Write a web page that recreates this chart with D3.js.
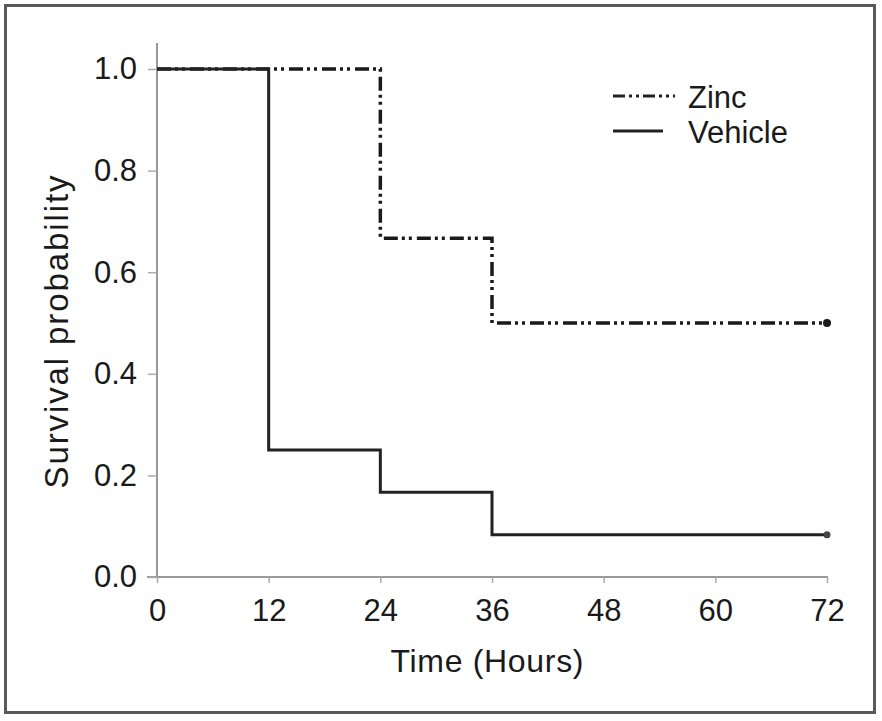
<!DOCTYPE html>
<html>
<head>
<meta charset="utf-8">
<script src="https://cdn.jsdelivr.net/npm/d3@7"></script>
<style>
  body { margin: 0; background: #fff; }
  text { font-family: "Liberation Sans", Arial, sans-serif; fill: #1a1a1a; }
</style>
</head>
<body>
<div id="chart-container"></div>
<script>
// Kaplan-Meier style step curves

var hours = [0, 12, 24, 36, 48, 60, 72]
var probTicks = [0, 0.2, 0.4, 0.6, 0.8, 1.0]

// step points: [time, survival]
var zincSteps = [[0, 1.0], [24, 1.0], [24, 0.667], [36, 0.667], [36, 0.5], [72, 0.5]]
var vehicleSteps = [[0, 1.0], [12, 1.0], [12, 0.25], [24, 0.25], [24, 0.167], [36, 0.167], [36, 0.083], [72, 0.083]]

var seriesNames = ['Zinc', 'Vehicle']

const width = 882, height = 721
const margin = ({top: 69, right: 55, bottom: 144, left: 157})

let svg = d3.select('#chart-container')
            .append('svg')
            .attr('width', width)
            .attr('height', height)

// outer frame
svg.append('rect')
    .attr('x', 5.5).attr('y', 5.5)
    .attr('width', 869).attr('height', 707)
    .attr('fill', 'none')
    .attr('stroke', '#5a5a5a')
    .attr('stroke-width', 3)

let x = d3.scaleLinear()
    .domain([0, 72])
    .range([margin.left, width - margin.right])

let y = d3.scaleLinear()
    .domain([0, 1])
    .range([height - margin.bottom, margin.top])

// x axis
svg.append('g')
    .attr('transform', `translate(0,${y(0)})`)
    .call(d3.axisBottom(x).tickValues(hours).tickSize(6).tickPadding(16).tickSizeOuter(0))
    .call(g => g.select('.domain').attr('stroke', '#999').attr('stroke-width', 2)
        .attr('d', `M${x(0) - 10},0H${x(72) + 1}`))
    .call(g => g.selectAll('.tick line').attr('stroke', '#aaa').attr('stroke-width', 1.5))
    .call(g => g.selectAll('.tick text').attr('font-size', 31))

// y axis
svg.append('g')
    .attr('transform', `translate(${x(0)},0)`)
    .call(d3.axisLeft(y).tickValues(probTicks).tickFormat(d3.format('.1f')).tickSize(9).tickPadding(11).tickSizeOuter(0))
    .call(g => g.select('.domain').attr('stroke', '#999').attr('stroke-width', 2)
        .attr('d', `M0,${y(1) - 26}V${y(0)}`))
    .call(g => g.selectAll('.tick line').attr('stroke', '#aaa').attr('stroke-width', 1.5))
    .call(g => g.selectAll('.tick text').attr('font-size', 31))

// axis titles
svg.append('text')
    .attr('x', (x(0) + x(72)) / 2 - 5)
    .attr('y', 672)
    .attr('text-anchor', 'middle')
    .attr('font-size', 32)
    .attr('textLength', 193)
    .attr('lengthAdjust', 'spacing')
    .text('Time (Hours)')

svg.append('text')
    .attr('transform', `translate(68,332) rotate(-90)`)
    .attr('text-anchor', 'middle')
    .attr('font-size', 33)
    .attr('textLength', 313)
    .attr('lengthAdjust', 'spacing')
    .text('Survival probability')

let line = d3.line()
    .x(d => x(d[0]))
    .y(d => y(d[1]))

const zincDash = '14,4,3,4,3,5'

svg.append('path')
    .datum(zincSteps)
    .attr('d', line)
    .attr('fill', 'none')
    .attr('stroke', '#1a1a1a')
    .attr('stroke-width', 3.5)
    .attr('stroke-dasharray', zincDash)

svg.append('path')
    .datum(vehicleSteps)
    .attr('d', line)
    .attr('fill', 'none')
    .attr('stroke', '#222')
    .attr('stroke-width', 3)

// censor dots at end
svg.append('circle')
    .attr('cx', x(72)).attr('cy', y(zincSteps[zincSteps.length - 1][1]))
    .attr('r', 4).attr('fill', '#1a1a1a')
svg.append('circle')
    .attr('cx', x(72)).attr('cy', y(vehicleSteps[vehicleSteps.length - 1][1]))
    .attr('r', 3.5).attr('fill', '#444')

// legend
let legend = svg.append('g').attr('transform', 'translate(613,96)')
seriesNames.forEach((name, i) => {
    let row = legend.append('g').attr('transform', `translate(0,${i * 35})`)
    row.append('line')
        .attr('x1', 0).attr('x2', i === 0 ? 62 : 50)
        .attr('stroke', '#222')
        .attr('stroke-width', 3)
        .attr('stroke-dasharray', i === 0 ? '12,4,3,4,3,4' : null)
    row.append('text')
        .attr('x', 75).attr('y', 12)
        .attr('font-size', 31)
        .text(name)
})
</script>
</body>
</html>
